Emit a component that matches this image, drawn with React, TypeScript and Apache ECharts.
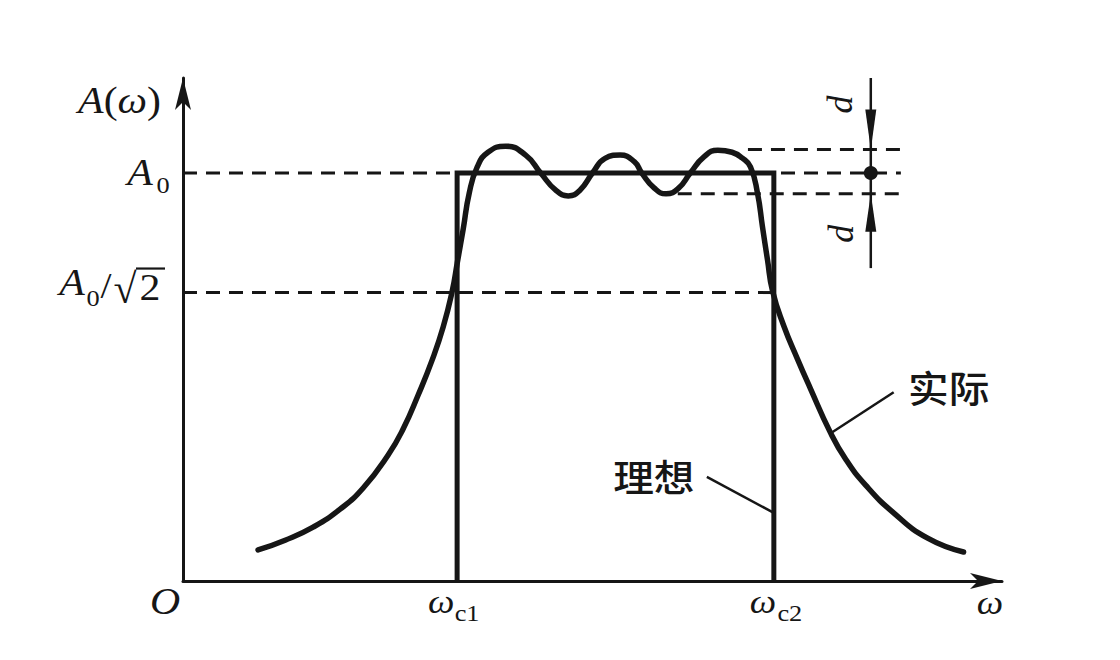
import React, { useEffect, useRef } from "react";
import * as echarts from "echarts";

// ---- data (normalised: A0 = 1, omega axis 0..98) ----
const X_MAX = 98;
const Y_MAX = 1.233;
const W_C1 = 32.8;
const W_C2 = 70.7;
const A0 = 1;
const A0_SQRT2 = 0.7071;
const D_UP = 1.058;
const D_LO = 0.949;
const D_MARK_X = 82.3;
const DASH_END = 85.9;

const idealX = [W_C1, W_C1, W_C2, W_C2];
const idealY = [0, A0, A0, 0];

const actualX = [8.98, 12.22, 15.57, 18.8, 21.56, 24.55, 26.35, 28.14, 29.82, 31.14, 32.22, 32.81, 33.53, 34.25, 35.21, 36.5, 38.6, 41.0, 42.8, 44.6, 46.1, 47.5, 49.0, 50.5, 52.3, 54.0, 54.9, 56.4, 57.8, 59.3, 60.7, 62.3, 64.0, 65.7, 66.9, 67.9, 68.74, 69.34, 69.94, 70.54, 71.86, 73.53, 75.09, 77.37, 79.28, 81.68, 85.03, 89.1, 93.4];
const actualY = [0.076, 0.1, 0.132, 0.176, 0.228, 0.309, 0.373, 0.456, 0.542, 0.623, 0.711, 0.779, 0.863, 0.951, 1.015, 1.051, 1.066, 1.044, 1.0, 0.958, 0.944, 0.958, 1.0, 1.036, 1.044, 1.028, 1.0, 0.963, 0.949, 0.963, 1.0, 1.039, 1.056, 1.051, 1.037, 1.015, 0.951, 0.868, 0.787, 0.711, 0.627, 0.544, 0.471, 0.368, 0.299, 0.235, 0.167, 0.105, 0.071];

const dashA0X = [0, DASH_END];
const dashHalfX = [0, W_C2];
const dashUpX = [67.6, DASH_END];
const dashLoX = [59.2, DASH_END];
const dimY = [1.233, 0.767];

const ACTUAL_PT = [77.5, 0.362];
const IDEAL_PT = [W_C2, 0.167];

const INK = "#161616";
const MATH = "'Liberation Serif', 'DejaVu Serif', serif";
const CJK = "'Noto Sans CJK SC', sans-serif";

const zip = (xs: number[], ys: number[]) => xs.map((x, i) => [x, ys[i]]);

export default function App() {
  const ref = useRef<HTMLDivElement>(null);
  useEffect(() => {
    if (!ref.current) return;
    const chart = echarts.init(ref.current, undefined, { renderer: "svg" });
    const dashStyle = { color: INK, width: 3, type: [14, 9] as any, cap: "butt" as const };
    const dashed = (xs: number[], y: number) => ({
      type: "line",
      data: xs.map((x) => [x, y]),
      symbol: "none",
      lineStyle: dashStyle,
      z: 1,
    });
    chart.setOption({
      animation: false,
      backgroundColor: "#ffffff",
      grid: { left: 183, right: 118, top: 78, bottom: 79 },
      xAxis: {
        type: "value",
        min: 0,
        max: X_MAX,
        axisLine: { show: true, symbol: ["none", "arrow"], symbolSize: [12, 32], lineStyle: { color: INK, width: 3 } },
        axisTick: { show: false },
        axisLabel: { show: false },
        splitLine: { show: false },
      },
      yAxis: {
        type: "value",
        min: 0,
        max: Y_MAX,
        axisLine: { show: true, onZero: false, symbol: ["none", "arrow"], symbolSize: [12, 32], lineStyle: { color: INK, width: 3 } },
        axisTick: { show: false },
        axisLabel: { show: false },
        splitLine: { show: false },
      },
      series: [
        dashed(dashA0X, A0),
        dashed(dashHalfX, A0_SQRT2),
        dashed(dashUpX, D_UP),
        dashed(dashLoX, D_LO),
        {
          type: "line",
          data: zip(idealX, idealY),
          symbol: "none",
          lineStyle: { color: INK, width: 5, join: "miter", cap: "butt" },
          z: 3,
        },
        {
          type: "line",
          data: zip(actualX, actualY),
          symbol: "none",
          smooth: 0.5,
          lineStyle: { color: INK, width: 5.5, cap: "round" },
          z: 4,
        },
      ],
    });

    const p = (x: number, y: number) => chart.convertToPixel({ gridIndex: 0 }, [x, y]) as number[];
    const SX = 1.1;
    const txt = (x: number, y: number, text: string, size: number, opts: any = {}) => ({
      type: "text",
      x,
      y,
      scaleX: opts.scaleX ?? SX,
      rotation: opts.rotation ?? 0,
      z: 10,
      style: {
        text,
        fill: INK,
        font: `${opts.italic ? "italic " : ""}${opts.weight ?? ""} ${size}px ${opts.family ?? MATH}`,
        align: opts.align ?? "center",
        verticalAlign: "middle",
      },
    });
    const line = (a: number[], b: number[], w = 2.5) => ({
      type: "line",
      z: 10,
      shape: { x1: a[0], y1: a[1], x2: b[0], y2: b[1] },
      style: { stroke: INK, lineWidth: w },
    });

    const c1 = p(W_C1, 0);
    const c2 = p(W_C2, 0);
    const o = p(0, 0);
    const xEnd = p(X_MAX, 0);
    const yA0 = p(0, A0);
    const yHalf = p(0, A0_SQRT2);
    const yTop = p(0, Y_MAX);
    const dTop = p(D_MARK_X, dimY[0]);
    const dBot = p(D_MARK_X, dimY[1]);
    const dUp = p(D_MARK_X, D_UP);
    const dLo = p(D_MARK_X, D_LO);
    const dMid = p(D_MARK_X, A0);
    const aPt = p(ACTUAL_PT[0], ACTUAL_PT[1]);
    const iPt = p(IDEAL_PT[0], IDEAL_PT[1]);

    const graphic: any[] = [
      // y-axis labels
      { type: "text", x: o[0] - 22, y: yTop[1] + 22, scaleX: SX, z: 10,
        style: { text: "{i|A}{n|(}{i|ω}{n|)}", align: "right", verticalAlign: "middle",
          rich: {
            i: { font: `italic 38px ${MATH}`, fill: INK },
            n: { font: `38px ${MATH}`, fill: INK },
          } } },
      txt(o[0] - 43, yA0[1] - 1, "A", 38, { italic: true }),
      txt(o[0] - 20, yA0[1] + 12, "0", 24),
      txt(o[0] - 111, yHalf[1] - 10, "A", 38, { italic: true }),
      txt(o[0] - 90, yHalf[1] + 5, "0", 24),
      txt(o[0] - 77, yHalf[1] - 7, "/", 36),
      txt(o[0] - 58, yHalf[1] - 4, "√", 42, { scaleX: 1 }),
      txt(o[0] - 33, yHalf[1] - 5, "2", 38),
      line([o[0] - 47, yHalf[1] - 24], [o[0] - 18, yHalf[1] - 24], 2.2),
      // x-axis labels
      txt(o[0] - 18, o[1] + 20, "O", 38, { italic: true }),
      txt(c1[0] - 16, c1[1] + 21, "ω", 34, { italic: true }),
      txt(c1[0] + 10, c1[1] + 32, "c1", 24),
      txt(c2[0] - 11, c2[1] + 21, "ω", 34, { italic: true }),
      txt(c2[0] + 16, c2[1] + 32, "c2", 24),
      txt(xEnd[0] - 12, xEnd[1] + 22, "ω", 34, { italic: true }),
      // tolerance marker
      line(dTop, dBot, 2.5),
      { type: "polygon", z: 10, shape: { points: [[dUp[0], dUp[1]], [dUp[0] - 5.5, dUp[1] - 40], [dUp[0] + 5.5, dUp[1] - 40]] }, style: { fill: INK } },
      { type: "polygon", z: 10, shape: { points: [[dLo[0], dLo[1]], [dLo[0] - 5.5, dLo[1] + 38], [dLo[0] + 5.5, dLo[1] + 38]] }, style: { fill: INK } },
      { type: "circle", z: 10, shape: { cx: dMid[0], cy: dMid[1], r: 7 }, style: { fill: INK } },
      txt(dMid[0] - 31, dUp[1] - 45, "d", 36, { italic: true, rotation: Math.PI / 2, scaleX: 1 }),
      txt(dMid[0] - 30, dLo[1] + 40, "d", 36, { italic: true, rotation: Math.PI / 2, scaleX: 1 }),
      // annotations
      txt(aPt[0] + 118, aPt[1] - 46, "实际", 37, { family: CJK, weight: 500 }),
      line([aPt[0] + 63, aPt[1] - 41], [aPt[0], aPt[1]], 2.5),
      txt(iPt[0] - 120, iPt[1] - 37, "理想", 37, { family: CJK, weight: 500 }),
      line([iPt[0] - 67, iPt[1] - 36], [iPt[0], iPt[1]], 2.5),
    ];
    chart.setOption({ graphic });
    return () => chart.dispose();
  }, []);
  return (
    <div style={{ position: "fixed", left: 0, top: 0, width: 1120, height: 660, background: "#fff" }}>
      <div ref={ref} style={{ width: 1120, height: 660 }} />
    </div>
  );
}
